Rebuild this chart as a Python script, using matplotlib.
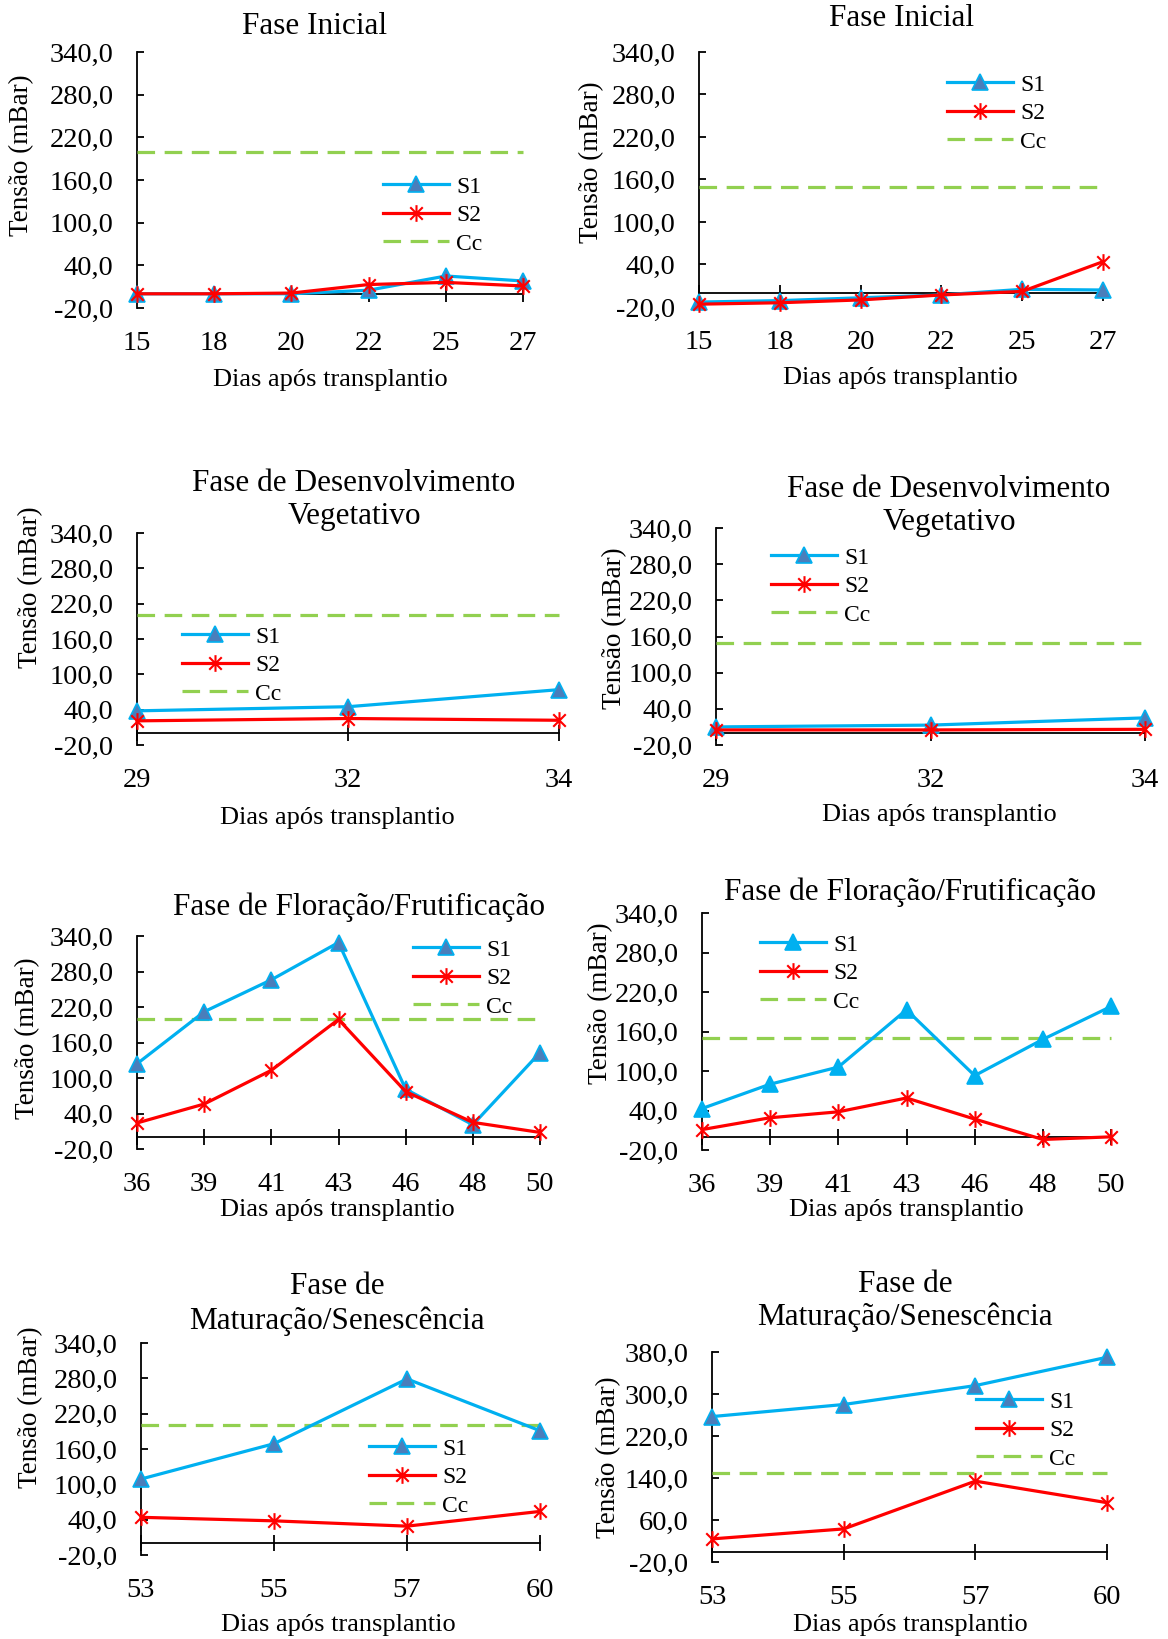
import matplotlib
matplotlib.use("Agg")
import matplotlib.pyplot as plt
from matplotlib.path import Path

plt.rcParams['font.family'] = ['Liberation Serif', 'DejaVu Serif']

W, H = 1168, 1639

# dados: tensao (mBar) por dia apos transplantio
dias_inicial = ["15", "18", "20", "22", "25", "27"]
s1_inicial_a = [0, 0, 0, 5, 25, 18]
s2_inicial_a = [0, 0, 1, 13, 16, 11]
s1_inicial_b = [-13, -11, -7, -3, 5, 4]
s2_inicial_b = [-16, -14, -10, -3, 2, 44]

dias_vegetativo = ["29", "32", "34"]
s1_veg_a = [38, 45, 74]
s2_veg_a = [21, 25, 22]
s1_veg_b = [10, 13, 25]
s2_veg_b = [5, 5, 6]

dias_floracao = ["36", "39", "41", "43", "46", "48", "50"]
s1_flo_a = [124, 212, 266, 329, 81, 21, 143]
s2_flo_a = [24, 56, 113, 199, 77, 25, 8]
s1_flo_b = [43, 80, 106, 193, 93, 148, 198]
s2_flo_b = [11, 29, 38, 59, 27, -4, 0]

dias_maturacao = ["53", "55", "57", "60"]
s1_mat_a = [109, 169, 279, 191]
s2_mat_a = [44, 38, 29, 54]
s1_mat_b = [257, 280, 316, 370]
s2_mat_b = [24, 43, 134, 93]

cc_a = 200
cc_b = 150

yticks_padrao = [-20, 40, 100, 160, 220, 280, 340]
yticks_mat_b = [-20, 60, 140, 220, 300, 380]

titulos = {
    "ini": "Fase Inicial",
    "veg": "Fase de Desenvolvimento\nVegetativo",
    "flo": "Fase de Floração/Frutificação",
    "mat": "Fase de\nMaturação/Senescência",
}

AZUL = "#00B0F0"
VERMELHO = "#FF0000"
VERDE = "#92D050"
AZUL_ESC = "#4A7EBB"

asterisco = Path([(0, -1), (0, 1), (-0.75, -0.75), (0.75, 0.75), (-0.75, 0.75), (0.75, -0.75)],
                 [Path.MOVETO, Path.LINETO] * 3)

# (dias, s1, s2, cc, yticks, titulo, caixa px, titulo px, xlabel px, ylabel px, legenda px, cor triangulo)
paineis = [
    (dias_inicial, s1_inicial_a, s2_inicial_a, cc_a, yticks_padrao, "ini",
     (137, 52, 523, 308), (315, 27), (330, 380), (22, 155), (383, 185), AZUL_ESC),
    (dias_inicial, s1_inicial_b, s2_inicial_b, cc_b, yticks_padrao, "ini",
     (699, 52, 1103, 307), (902, 18), (900, 378), (592, 162), (947, 83), AZUL_ESC),
    (dias_vegetativo, s1_veg_a, s2_veg_a, cc_a, yticks_padrao, "veg",
     (137, 533, 559, 745), (354, 500), (337, 818), (31, 587), (182, 635), AZUL_ESC),
    (dias_vegetativo, s1_veg_b, s2_veg_b, cc_b, yticks_padrao, "veg",
     (716, 528, 1145, 745), (949, 506), (939, 815), (615, 628), (771, 556), AZUL_ESC),
    (dias_floracao, s1_flo_a, s2_flo_a, cc_a, yticks_padrao, "flo",
     (137, 936, 540, 1149), (359, 907), (337, 1210), (28, 1038), (413, 948), AZUL_ESC),
    (dias_floracao, s1_flo_b, s2_flo_b, cc_b, yticks_padrao, "flo",
     (702, 913, 1111, 1150), (910, 892), (906, 1210), (601, 1003), (760, 943), AZUL),
    (dias_maturacao, s1_mat_a, s2_mat_a, cc_a, yticks_padrao, "mat",
     (141, 1343, 540, 1555), (337, 1304), (338, 1625), (31, 1407), (369, 1447), AZUL_ESC),
    (dias_maturacao, s1_mat_b, s2_mat_b, cc_b, yticks_mat_b, "mat",
     (712, 1352, 1107, 1562), (905, 1301), (910, 1625), (609, 1457), (976, 1400), AZUL_ESC),
]

fig = plt.figure(figsize=(W / 100, H / 100), dpi=100)

for dias, s1, s2, cc, yt, tit, caixa, pt, px, py, pl, cor_tri in paineis:
    x0, y0, x1, y1 = caixa
    ax = fig.add_axes([x0 / W, 1 - y1 / H, (x1 - x0) / W, (y1 - y0) / H])
    x = list(range(len(dias)))

    ax.plot(x, s1, color=AZUL, lw=2.3, marker="^", ms=11, mfc=cor_tri, mec=AZUL,
            mew=1.2, label="S1", zorder=4, clip_on=False)
    ax.plot(x, s2, color=VERMELHO, lw=2.3, marker=asterisco, ms=12, mec=VERMELHO,
            mew=1.5, label="S2", zorder=4, clip_on=False)
    ax.plot(x, [cc] * len(x), color=VERDE, lw=2.3, dashes=(5.5, 3), label="Cc", zorder=3,
            clip_on=False)

    ax.set_xlim(0, len(x) - 1)
    ax.set_ylim(yt[0], yt[-1])
    ax.set_yticks(yt)
    ax.set_yticklabels([f"{v},0" for v in yt])

    for s in ("top", "right"):
        ax.spines[s].set_visible(False)
    ax.spines["bottom"].set_position(("data", 0))
    ax.spines["bottom"].set_linewidth(1.3)
    ax.spines["left"].set_linewidth(1.3)

    ax.set_xticks(x)
    ax.tick_params(axis="x", direction="inout", length=11.5, width=1.3, labelbottom=False)
    ax.tick_params(axis="y", direction="in", length=5, width=1.3, pad=17, labelsize=20.5)

    sec = ax.secondary_xaxis("bottom")
    sec.set_xticks(x, dias)
    sec.tick_params(length=0, pad=16.5, labelsize=20.5)
    sec.spines["bottom"].set_visible(False)

    fig.text(pt[0] / W, 1 - pt[1] / H, titulos[tit], fontsize=22.5, ha="center", va="center",
             multialignment="center")
    fig.text(px[0] / W, 1 - px[1] / H, "Dias após transplantio", fontsize=19,
             ha="center", va="center")
    fig.text(py[0] / W, 1 - py[1] / H, "Tensão (mBar)", fontsize=19.5, rotation=90,
             ha="center", va="center")

    ax.legend(loc="upper left", bbox_to_anchor=(pl[0] / W, 1 - (pl[1] - 9) / H),
              bbox_transform=fig.transFigure, frameon=False, borderpad=0, borderaxespad=0,
              handlelength=2.8, handletextpad=0.3, labelspacing=0.3, fontsize=17)

fig.savefig("out.png", dpi=100)
